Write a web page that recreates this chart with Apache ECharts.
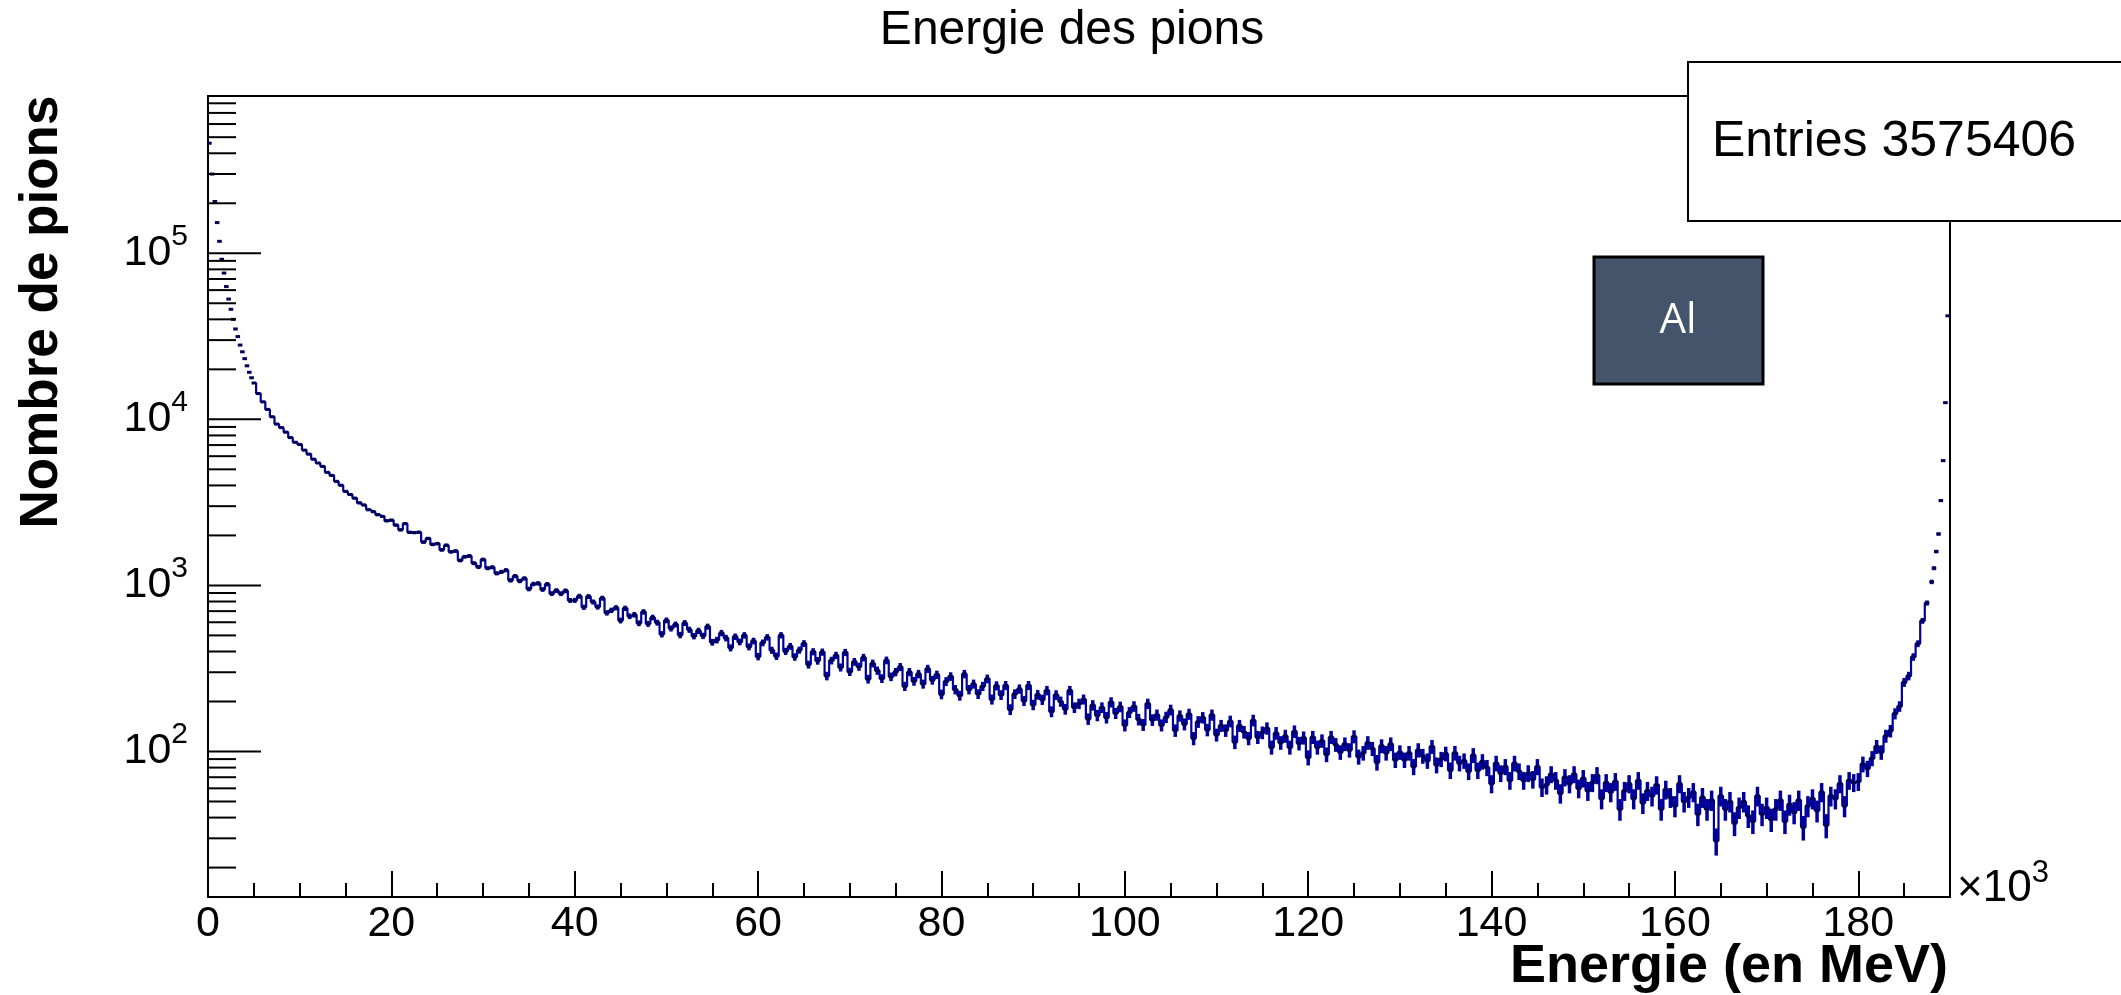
<!DOCTYPE html>
<html>
<head>
<meta charset="utf-8">
<title>Energie des pions</title>
<script src="https://cdn.jsdelivr.net/npm/echarts@6/dist/echarts.min.js"></script>
<style>
html, body { margin: 0; padding: 0; background: #fff; }
#main { width: 2121px; height: 995px; }
</style>
</head>
<body>
<div id="main"></div>
<script>
const chartDom = document.getElementById('main');
let myChart = echarts.init(chartDom);

const police = 'Liberation Sans';
const bleu = '#000099';

// centres des bins, en 10^3 MeV
const energie = [
    0.15, 0.45, 0.75, 1, 1.25, 1.5, 1.75, 2, 2.25, 2.5, 2.75, 3, 3.25, 3.5, 3.75, 4, 4.25, 4.5, 4.75,
    5, 5.5, 6, 6.5, 7, 7.5, 8, 8.5, 9, 9.5,
    10, 10.5, 11, 11.5, 12, 12.5, 13, 13.5, 14, 14.5,
    15, 15.5, 16, 16.5, 17, 17.5, 18, 18.5, 19, 19.5,
    20, 20.5, 21, 21.5, 22, 22.5, 23, 23.5, 24, 24.5,
    25, 25.5, 26, 26.5, 27, 27.5, 28, 28.5, 29, 29.5,
    30, 30.5, 31, 31.5, 32, 32.5, 33, 33.5, 34, 34.5,
    35, 35.5, 36, 36.5, 37, 37.5, 38, 38.5, 39, 39.5,
    40, 40.5, 41, 41.5, 42, 42.5, 43, 43.5, 44, 44.5,
    45, 45.5, 46, 46.5, 47, 47.5, 48, 48.5, 49, 49.5,
    50, 50.5, 51, 51.5, 52, 52.5, 53, 53.5, 54, 54.5,
    55, 55.5, 56, 56.5, 57, 57.5, 58, 58.5, 59, 59.5,
    60, 60.5, 61, 61.5, 62, 62.5, 63, 63.5, 64, 64.5,
    65, 65.5, 66, 66.5, 67, 67.5, 68, 68.5, 69, 69.5,
    70, 70.5, 71, 71.5, 72, 72.5, 73, 73.5, 74, 74.5,
    75, 75.5, 76, 76.5, 77, 77.5, 78, 78.5, 79, 79.5,
    80, 80.5, 81, 81.5, 82, 82.5, 83, 83.5, 84, 84.5,
    85, 85.5, 86, 86.5, 87, 87.5, 88, 88.5, 89, 89.5,
    90, 90.5, 91, 91.5, 92, 92.5, 93, 93.5, 94, 94.5,
    95, 95.5, 96, 96.5, 97, 97.5, 98, 98.5, 99, 99.5,
    100, 100.5, 101, 101.5, 102, 102.5, 103, 103.5, 104, 104.5,
    105, 105.5, 106, 106.5, 107, 107.5, 108, 108.5, 109, 109.5,
    110, 110.5, 111, 111.5, 112, 112.5, 113, 113.5, 114, 114.5,
    115, 115.5, 116, 116.5, 117, 117.5, 118, 118.5, 119, 119.5,
    120, 120.5, 121, 121.5, 122, 122.5, 123, 123.5, 124, 124.5,
    125, 125.5, 126, 126.5, 127, 127.5, 128, 128.5, 129, 129.5,
    130, 130.5, 131, 131.5, 132, 132.5, 133, 133.5, 134, 134.5,
    135, 135.5, 136, 136.5, 137, 137.5, 138, 138.5, 139, 139.5,
    140, 140.5, 141, 141.5, 142, 142.5, 143, 143.5, 144, 144.5,
    145, 145.5, 146, 146.5, 147, 147.5, 148, 148.5, 149, 149.5,
    150, 150.5, 151, 151.5, 152, 152.5, 153, 153.5, 154, 154.5,
    155, 155.5, 156, 156.5, 157, 157.5, 158, 158.5, 159, 159.5,
    160, 160.5, 161, 161.5, 162, 162.5, 163, 163.5, 164, 164.5,
    165, 165.5, 166, 166.5, 167, 167.5, 168, 168.5, 169, 169.5,
    170, 170.5, 171, 171.5, 172, 172.5, 173, 173.5, 174, 174.5,
    175, 175.5, 176, 176.5, 177, 177.5, 178, 178.5, 179, 179.5,
    180, 180.5, 181, 181.5, 182, 182.5, 183, 183.5, 184, 184.5,
    185, 185.5, 186, 186.5, 187, 187.5,
    188, 188.25, 188.5, 188.75, 189, 189.25, 189.5, 189.75
];

// nombre de pions par bin
const nombre = [
    460000, 300000, 205000, 153000, 118000, 92000, 76000, 63000, 53000, 46000,
    40000, 35000, 31500, 28000, 25500, 23200, 21000, 19200, 17800,
    16550, 14290, 12740, 11480, 10360, 9370, 8910, 8375, 7760, 7280,
    7060, 6530, 6175, 5760, 5460, 5210, 4800, 4600, 4235, 4010,
    3685, 3530, 3355, 3140, 3050, 2855, 2780, 2665, 2605, 2450,
    2472, 2308, 2160, 2354, 2088, 2080, 2090, 1824, 1918, 1766,
    1786, 1637, 1745, 1594, 1611, 1414, 1488, 1504, 1361, 1292,
    1431, 1270, 1286, 1183, 1207, 1235, 1073, 1138, 1063, 1102,
    952, 1020, 1029, 945, 1017, 893, 932, 892, 928, 812,
    813, 861, 739, 858, 795, 742, 838, 684, 708, 734,
    615, 728, 652, 666, 592, 693, 587, 641, 597, 508,
    616, 551, 582, 503, 594, 541, 495, 533, 497, 565,
    455, 469, 517, 482, 421, 491, 457, 501, 427, 463,
    373, 451, 487, 407, 375, 501, 401, 430, 371, 408,
    447, 334, 399, 352, 397, 285, 353, 379, 321, 395,
    302, 347, 324, 368, 273, 339, 307, 275, 354, 282,
    301, 323, 247, 301, 265, 293, 255, 315, 269, 290,
    221, 264, 283, 236, 217, 293, 236, 255, 222, 247,
    274, 206, 249, 219, 250, 179, 222, 238, 202, 250,
    191, 220, 205, 233, 174, 219, 200, 180, 233, 184,
    194, 206, 157, 190, 165, 184, 160, 198, 170, 186,
    144, 172, 187, 156, 145, 194, 155, 166, 144, 161,
    178, 134, 164, 146, 168, 120, 151, 160, 135, 166,
    126, 143, 134, 152, 114, 143, 131, 120, 154, 122,
    130, 138, 106, 129, 113, 124, 106, 132, 112, 121,
    92, 122, 106, 116, 96, 122, 110, 99, 111, 102,
    123, 93, 98, 113, 104, 86, 108, 98, 111, 89,
    99, 89, 98, 81, 102, 94, 88, 107, 83, 90,
    97, 77, 98, 85, 88, 76, 95, 77, 87, 80,
    64, 85, 74, 81, 67, 85, 76, 67, 74, 68,
    81, 61, 63, 73, 67, 56, 70, 64, 73, 60,
    69, 58, 65, 72, 52, 65, 57, 66, 45, 58,
    64, 52, 67, 49, 58, 54, 63, 45, 59, 53,
    47, 64, 50, 53, 57, 42, 53, 45, 51, 29,
    54, 45, 50, 37, 46, 50, 41, 38, 54, 42,
    46, 39, 45, 51, 38, 48, 43, 51, 35, 47,
    52, 44, 57, 36, 54, 52, 64, 47, 67, 65,
    66, 84, 79, 91, 107, 99, 124, 133, 169, 187,
    261, 285, 371, 446, 612, 784,
    1050, 1270, 1600, 2040, 3240, 5640, 12600, 42000
];

const yMajeurs = [100, 1000, 10000, 100000];
const yMineurs = [
    20, 30, 40, 50, 60, 70, 80, 90,
    200, 300, 400, 500, 600, 700, 800, 900,
    2000, 3000, 4000, 5000, 6000, 7000, 8000, 9000,
    20000, 30000, 40000, 50000, 60000, 70000, 80000, 90000,
    200000, 300000, 400000, 500000, 600000, 700000, 800000
];

const titre = 'Energie des pions';
const titreX = 'Energie (en MeV)';
const titreY = 'Nombre de pions';
const entrees = 'Entries 3575406';
const cible = 'Al';

const points = energie.map((e, i) => [e, nombre[i]]);

// graduations de l'axe log, tracees a partir de l'axe lui-meme
serieGraduation = (valeurs, longueur) => {
    return {
        type: 'custom',
        silent: true,
        z: 5,
        data: valeurs.map((v) => [0, v]),
        encode: { x: 0, y: 1 },
        renderItem: (params, api) => {
            const p = api.coord([0, api.value(1)]);
            return {
                type: 'line',
                shape: { x1: p[0], y1: p[1], x2: p[0] + longueur, y2: p[1] },
                style: { stroke: '#000', lineWidth: 2 }
            };
        }
    };
}

// histogramme avec barres d'erreur (sqrt N)
serieHisto = () => {
    return {
        type: 'custom',
        silent: true,
        clip: true,
        z: 4,
        data: points,
        encode: { x: 0, y: 1 },
        renderItem: (params, api) => {
            const e = api.value(0);
            const n = api.value(1);
            const err = Math.sqrt(n);
            const haut = api.coord([e, n + err]);
            const bas = api.coord([e, n - err]);
            const g = api.coord([e - 0.25, n]);
            const d = api.coord([e + 0.25, n]);
            return {
                type: 'group',
                children: [
                    { type: 'line', shape: { x1: haut[0], y1: haut[1], x2: bas[0], y2: bas[1] }, style: { stroke: bleu, lineWidth: 3.5 } },
                    { type: 'line', shape: { x1: g[0], y1: g[1], x2: d[0], y2: d[1] }, style: { stroke: '#000055', lineWidth: 3 } }
                ]
            };
        }
    };
}

labelPuissance = (v) => {
    const l = Math.log10(v);
    const k = Math.round(l);
    if (Math.abs(l - k) > 1e-6) return '';
    return `{b|10}{s|${k}}`;
}

myChart.setOption({
    animation: false,
    backgroundColor: '#fff',
    grid: {
        left: 208,
        right: 171,
        top: 96,
        bottom: 98,
        show: true,
        borderColor: '#000',
        borderWidth: 2,
        containLabel: false,
        outerBoundsMode: 'none'
    },
    xAxis: [
        {
            type: 'value',
            position: 'bottom',
            min: 0,
            max: 190,
            interval: 20,
            axisLine: { show: true, onZero: false, lineStyle: { color: '#000', width: 2 } },
            axisTick: { show: true, inside: true, length: 26, lineStyle: { color: '#000', width: 2 } },
            splitLine: { show: false },
            axisLabel: {
                margin: 6,
                color: '#000',
                fontSize: 43,
                fontFamily: police,
                showMaxLabel: false,
                formatter: (v) => (v % 20 === 0 ? String(v) : '')
            }
        },
        {
            type: 'value',
            position: 'bottom',
            min: 0,
            max: 190,
            interval: 5,
            axisLine: { show: false, onZero: false },
            axisTick: { show: true, inside: true, length: 14, lineStyle: { color: '#000', width: 2 } },
            splitLine: { show: false },
            axisLabel: { show: false }
        }
    ],
    yAxis: {
        type: 'log',
        logBase: 10,
        min: 13.3,
        max: 885000,
        axisLine: { show: true, onZero: false, lineStyle: { color: '#000', width: 2 } },
        axisTick: { show: false },
        minorTick: { show: false },
        splitLine: { show: false },
        axisLabel: {
            margin: 20,
            color: '#000',
            showMinLabel: false,
            showMaxLabel: false,
            formatter: labelPuissance,
            rich: {
                b: { fontSize: 43, fontFamily: police, color: '#000', lineHeight: 64 },
                s: { fontSize: 30, fontFamily: police, color: '#000', verticalAlign: 'top' }
            }
        }
    },
    series: [
        {
            // contour en escalier du bruit statistique
            type: 'line',
            step: 'middle',
            silent: true,
            symbol: 'none',
            z: 3,
            data: points.filter((p) => p[0] >= 5 && p[0] <= 187.5),
            lineStyle: { color: bleu, width: 2.2 }
        },
        serieHisto(),
        serieGraduation(yMajeurs, 53),
        serieGraduation(yMineurs, 28)
    ],
    graphic: [
        {
            type: 'text', x: 1072, y: 31, z: 10,
            style: { text: titre, font: `48px "${police}"`, fill: '#000', align: 'center', verticalAlign: 'middle' }
        },
        {
            type: 'text', x: 42, y: 312, z: 10, rotation: Math.PI / 2,
            style: { text: titreY, font: `bold 53px "${police}"`, fill: '#000', align: 'center', verticalAlign: 'middle' }
        },
        {
            type: 'text', x: 1948, y: 967, z: 10,
            style: { text: titreX, font: `bold 54px "${police}"`, fill: '#000', align: 'right', verticalAlign: 'middle' }
        },
        {
            type: 'text', x: 1957, y: 889, z: 10,
            style: {
                text: '{a|×10}{s|3}',
                align: 'left',
                verticalAlign: 'middle',
                rich: {
                    a: { fontSize: 44, fontFamily: police, color: '#000', lineHeight: 62 },
                    s: { fontSize: 31, fontFamily: police, color: '#000', verticalAlign: 'top' }
                }
            }
        },
        {
            type: 'rect', z: 10,
            shape: { x: 1688, y: 62, width: 480, height: 159 },
            style: { fill: '#fff', stroke: '#000', lineWidth: 2 }
        },
        {
            type: 'text', x: 1712, y: 142, z: 11,
            style: { text: entrees, font: `50px "${police}"`, fill: '#000', align: 'left', verticalAlign: 'middle' }
        },
        {
            type: 'rect', z: 10,
            shape: { x: 1594, y: 257, width: 169, height: 127 },
            style: { fill: '#44546a', stroke: '#000', lineWidth: 3 }
        },
        {
            type: 'text', x: 1678, y: 321, z: 11,
            style: { text: cible, font: '42px "Open Sans"', fill: '#fff', align: 'center', verticalAlign: 'middle' }
        }
    ]
});

window.addEventListener('resize', () => {
    myChart.resize();
});
</script>
</body>
</html>
